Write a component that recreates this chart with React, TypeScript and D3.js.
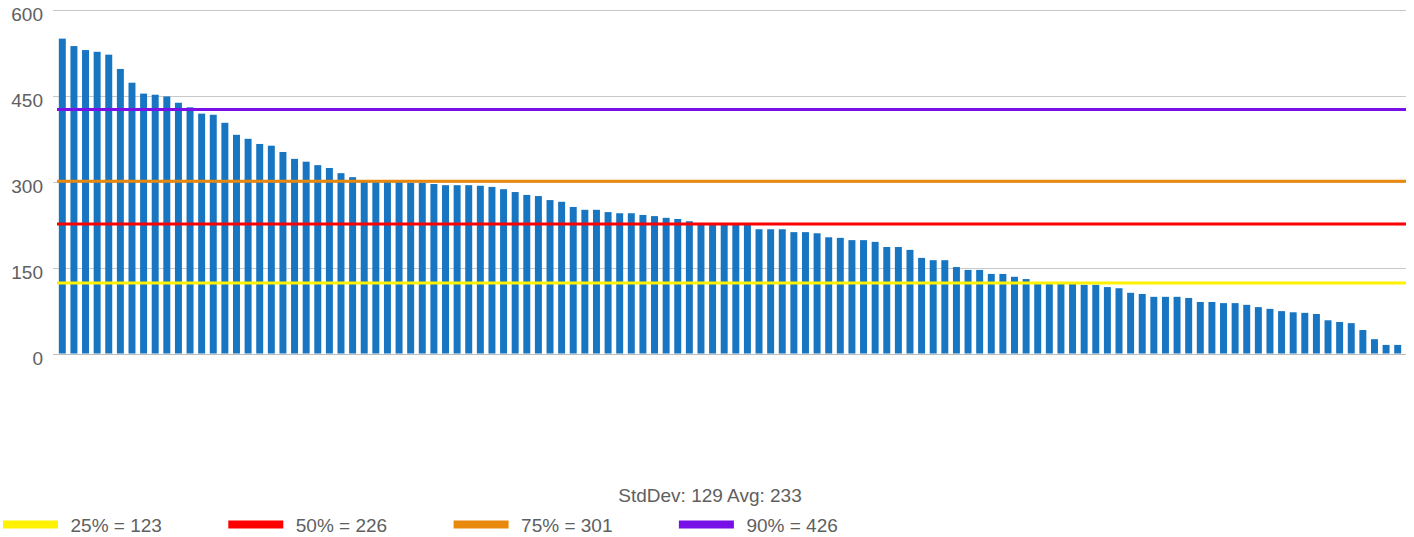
import React from 'react';
import * as d3 from 'd3';

// bar values, sorted high to low
const values = [
  550, 537, 530, 527, 522, 497, 473, 454, 452, 449, 438, 430, 419, 417, 403, 382,
  375, 366, 363, 352, 340, 335, 329, 324, 315, 308, 300, 300, 300, 300, 298, 298,
  296, 294, 294, 294, 293, 291, 287, 282, 277, 275, 268, 265, 256, 251, 251, 247,
  245, 245, 242, 240, 237, 235, 231, 227, 227, 227, 227, 227, 217, 217, 217, 212,
  212, 210, 203, 202, 198, 198, 195, 186, 186, 181, 167, 163, 163, 151, 146, 146,
  139, 139, 134, 130, 122, 122, 122, 122, 120, 120, 116, 114, 106, 104, 99, 99,
  99, 97, 90, 90, 88, 88, 85, 81, 78, 74, 72, 71, 69, 58, 55, 53,
  41, 25, 15, 15,
];

const yTicks = [0, 150, 300, 450, 600];

const pctLabels = ['25%', '50%', '75%', '90%'];
const pctValues = [123, 226, 301, 426];
const pctColors = ['#fff200', '#ff0000', '#e8890e', '#7811e8'];

const stdDev = 129;
const avg = 233;

const W = 1414;
const H = 537;
const FONT = '"Liberation Sans", Arial, sans-serif';
const TEXT = '#606060';

export default function App() {
  const left = 53, right = 1406;
  const y = d3.scaleLinear().domain([0, 600]).range([353.5, 10]);
  const x = d3.scaleBand<number>()
    .domain(d3.range(values.length))
    .range([56.5, 1403.5])
    .paddingInner(0.4)
    .paddingOuter(0.2);

  return (
    <svg width={W} height={H} style={{ position: 'absolute', left: 0, top: 0 }} fontFamily={FONT}>
      {/* grid + y labels */}
      {yTicks.map(t => (
        <g key={t}>
          <line x1={left} x2={right} y1={Math.round(y(t)) + 0.5} y2={Math.round(y(t)) + 0.5}
            stroke={t === 0 ? '#bdbdbd' : '#c8c8c8'} strokeWidth={1} />
          <text x={43} y={y(t) + 11} textAnchor="end" fontSize={19} fill={TEXT}>{t}</text>
        </g>
      ))}

      {/* bars */}
      <g fill="#1775c1">
        {values.map((v, i) => (
          <rect key={i} x={x(i)} y={y(v)} width={x.bandwidth()} height={y(0) - y(v)} />
        ))}
      </g>

      {/* percentile lines */}
      {pctValues.map((v, i) => (
        <line key={i} x1={57} x2={right} y1={y(v)} y2={y(v)} stroke={pctColors[i]} strokeWidth={3} />
      ))}

      <text x={710} y={502} textAnchor="middle" fontSize={19} fill={TEXT}>
        {`StdDev: ${stdDev} Avg: ${avg}`}
      </text>

      {/* legend */}
      {pctLabels.map((l, i) => {
        const lx = 3 + i * 225.3;
        return (
          <g key={l}>
            <rect x={lx} y={520.5} width={55} height={8} fill={pctColors[i]} />
            <text x={lx + 67.5} y={531.5} fontSize={19} fill={TEXT}>{`${l} = ${pctValues[i]}`}</text>
          </g>
        );
      })}
    </svg>
  );
}
